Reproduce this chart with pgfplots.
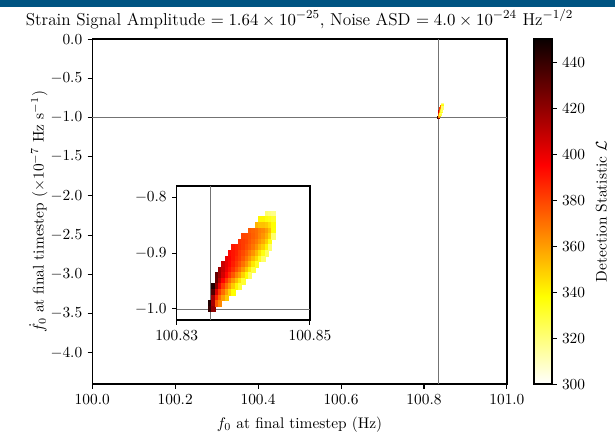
\documentclass[border=0pt]{standalone}
\usepackage{pgfplots}
\pgfplotsset{compat=1.18}
\usepackage{pgfplotstable}
\definecolor{bandblue}{RGB}{0,84,130}
\definecolor{refline}{gray}{0.45}
\pgfplotsset{colormap={hotr}{rgb(0pt)=(1,1,1); rgb(254pt)=(1,1,0); rgb(635pt)=(1,0,0); rgb(1000pt)=(0.04,0,0)}}

\pgfplotstableread{
x y c
100.8350 -0.99 445
100.8350 -1.00 440
100.8355 -0.96 445
100.8355 -0.97 434
100.8355 -0.98 415
100.8355 -0.99 415
100.8355 -1.00 420
100.8360 -0.94 430
100.8360 -0.95 429
100.8360 -0.96 420
100.8360 -0.97 403
100.8360 -0.98 388
100.8360 -0.99 376
100.8365 -0.93 417
100.8365 -0.94 417
100.8365 -0.95 410
100.8365 -0.96 398
100.8365 -0.97 383
100.8365 -0.98 372
100.8365 -0.99 365
100.8370 -0.92 407
100.8370 -0.93 408
100.8370 -0.94 405
100.8370 -0.95 395
100.8370 -0.96 383
100.8370 -0.97 371
100.8370 -0.98 360
100.8375 -0.91 400
100.8375 -0.92 401
100.8375 -0.93 399
100.8375 -0.94 394
100.8375 -0.95 383
100.8375 -0.96 371
100.8375 -0.97 359
100.8375 -0.98 350
100.8380 -0.90 394
100.8380 -0.91 396
100.8380 -0.92 395
100.8380 -0.93 392
100.8380 -0.94 385
100.8380 -0.95 372
100.8380 -0.96 361
100.8380 -0.97 348
100.8385 -0.89 390
100.8385 -0.90 391
100.8385 -0.91 391
100.8385 -0.92 389
100.8385 -0.93 385
100.8385 -0.94 376
100.8385 -0.95 362
100.8385 -0.96 350
100.8385 -0.97 338
100.8390 -0.89 388
100.8390 -0.90 388
100.8390 -0.91 386
100.8390 -0.92 383
100.8390 -0.93 377
100.8390 -0.94 366
100.8390 -0.95 353
100.8390 -0.96 340
100.8395 -0.88 384
100.8395 -0.89 385
100.8395 -0.90 383
100.8395 -0.91 382
100.8395 -0.92 377
100.8395 -0.93 370
100.8395 -0.94 359
100.8395 -0.95 343
100.8395 -0.96 330
100.8400 -0.87 380
100.8400 -0.88 382
100.8400 -0.89 382
100.8400 -0.90 379
100.8400 -0.91 376
100.8400 -0.92 370
100.8400 -0.93 361
100.8400 -0.94 348
100.8400 -0.95 331
100.8405 -0.87 379
100.8405 -0.88 380
100.8405 -0.89 378
100.8405 -0.90 374
100.8405 -0.91 369
100.8405 -0.92 362
100.8405 -0.93 351
100.8405 -0.94 338
100.8410 -0.86 375
100.8410 -0.87 377
100.8410 -0.88 376
100.8410 -0.89 374
100.8410 -0.90 368
100.8410 -0.91 362
100.8410 -0.92 353
100.8410 -0.93 341
100.8410 -0.94 324
100.8415 -0.86 373
100.8415 -0.87 374
100.8415 -0.88 372
100.8415 -0.89 369
100.8415 -0.90 362
100.8415 -0.91 354
100.8415 -0.92 343
100.8415 -0.93 329
100.8420 -0.85 355
100.8420 -0.86 371
100.8420 -0.87 371
100.8420 -0.88 368
100.8420 -0.89 363
100.8420 -0.90 354
100.8420 -0.91 346
100.8420 -0.92 333
100.8425 -0.84 340
100.8425 -0.85 352
100.8425 -0.86 367
100.8425 -0.87 366
100.8425 -0.88 362
100.8425 -0.89 355
100.8425 -0.90 345
100.8425 -0.91 334
100.8430 -0.84 340
100.8430 -0.85 352
100.8430 -0.86 365
100.8430 -0.87 362
100.8430 -0.88 357
100.8430 -0.89 349
100.8430 -0.90 336
100.8430 -0.91 323
100.8435 -0.83 322
100.8435 -0.84 337
100.8435 -0.85 350
100.8435 -0.86 360
100.8435 -0.87 356
100.8435 -0.88 349
100.8435 -0.89 340
100.8435 -0.90 325
100.8440 -0.83 320
100.8440 -0.84 335
100.8440 -0.85 345
100.8440 -0.86 353
100.8440 -0.87 347
100.8440 -0.88 336
100.8440 -0.89 322
100.8445 -0.83 318
100.8445 -0.84 332
100.8445 -0.85 338
100.8445 -0.86 337
100.8445 -0.87 322
}\blob

\pgfplotsset{
  mpl/.style={
    scale only axis,
    tick align=outside,
    tick pos=left,
    axis line style={line width=0.8pt},
    major tick length=3pt,
    every tick/.style={line width=0.7pt, black},
    colormap name=hotr,
    point meta min=300, point meta max=450,
    scaled ticks=false,
    tick label style={font=\fontsize{10}{12}\selectfont},
  },
  blobstyle/.style={scatter, only marks, mark=square*, scatter src=explicit,
    scatter/use mapped color={draw=mapped color, fill=mapped color}},
}

\begin{document}
\begin{tikzpicture}
\useasboundingbox (-60pt,-31.9pt) rectangle (340pt,249.8pt);
\fill[bandblue] (-60pt,245.3pt) rectangle (340pt,249.8pt);
\begin{axis}[mpl, name=main, at={(0,0)}, anchor=south west,
  width=269.7pt, height=224.4pt,
  xmin=100, xmax=101, ymin=-4.4, ymax=0,
  xtick={100,100.2,100.4,100.6,100.8,101},
  ytick={0,-0.5,-1,-1.5,-2,-2.5,-3,-3.5,-4},
  xticklabel style={/pgf/number format/.cd, fixed, fixed zerofill, precision=1},
  yticklabel style={/pgf/number format/.cd, fixed, fixed zerofill, precision=1},
  xlabel={$f_0$ at final timestep (Hz)},
  ylabel={$\dot{f}_0$ at final timestep ($\times 10^{-7}$ Hz s$^{-1}$)},
  every axis x label/.style={at={(axis description cs:0.5,-0.118)}, anchor=center},
  every axis y label/.style={at={(axis description cs:-0.130,0.5)}, anchor=center, rotate=90},
  colorbar,
  colorbar style={
    at={(parent axis.north east)}, anchor=north west, xshift=9.1pt,
    scale only axis, width=11.7pt, height=224.4pt,
    ytick={300,320,340,360,380,400,420,440},
    ytick pos=right, yticklabel pos=right,
    tick align=outside, major tick length=3pt,
    axis line style={line width=0.8pt},
    yticklabel style={font=\fontsize{10}{12}\selectfont},
    ylabel={Detection Statistic $\mathcal{L}$},
  },
]
\addplot[refline, line width=0.5pt] coordinates {(100.835,0) (100.835,-4.4)};
\addplot[refline, line width=0.5pt] coordinates {(100,-1) (101,-1)};
\addplot[blobstyle, mark size=0.45pt] table[x=x, y=y, meta=c] {\blob};
\end{axis}
\node[anchor=base, font=\fontsize{11.2}{14}\selectfont] at (134.8pt,233.5pt)
  {Strain Signal Amplitude $= 1.64 \times 10^{-25},$ Noise ASD $= 4.0 \times 10^{-24}$ Hz$^{-1/2}$};
\begin{axis}[mpl, at={(54.9pt,41.6pt)}, anchor=south west,
  width=86.7pt, height=87.2pt,
  xmin=100.83, xmax=100.85, ymin=-1.02, ymax=-0.78,
  xtick={100.83,100.85}, ytick={-0.8,-0.9,-1.0},
  xticklabel style={/pgf/number format/.cd, fixed, fixed zerofill, precision=2},
  yticklabel style={/pgf/number format/.cd, fixed, fixed zerofill, precision=1},
  axis background/.style={fill=white},
]
\addplot[refline, line width=0.5pt] coordinates {(100.8351,-1.02) (100.8351,-0.78)};
\addplot[refline, line width=0.5pt] coordinates {(100.83,-1) (100.85,-1)};
\addplot[blobstyle, mark size=1.15pt, mark options={yscale=1.6}] table[x=x, y=y, meta=c] {\blob};
\end{axis}
\end{tikzpicture}
\end{document}
